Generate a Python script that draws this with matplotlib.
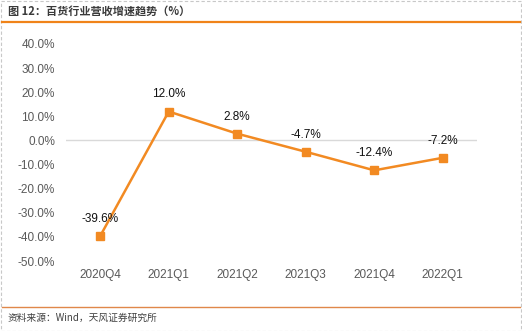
import matplotlib.pyplot as plt
from matplotlib.patches import Rectangle
from matplotlib.lines import Line2D

plt.rcParams['font.family'] = ['Liberation Sans', 'Noto Sans CJK SC', 'DejaVu Sans']

# 百货行业营收增速 (%)
quarters = ['2020Q4', '2021Q1', '2021Q2', '2021Q3', '2021Q4', '2022Q1']
growth = [-39.6, 12.0, 2.8, -4.7, -12.4, -7.2]
yticks = [40, 30, 20, 10, 0, -10, -20, -30, -40, -50]

orange = '#F28A22'

fig = plt.figure(figsize=(5.22, 3.31), dpi=100)
W, H = 522, 331

# outer dashed frame
fig.patches.append(Rectangle((0.5 / W, 0.5 / H), 1 - 1.5 / W, 1 - 1.5 / H, transform=fig.transFigure,
                             fill=False, ec='#c8c8c8', lw=0.8, ls=(0, (3, 2))))
# header/footer rules
fig.lines.append(Line2D([2 / W, 1 - 2 / W], [1 - 22 / H, 1 - 22 / H], transform=fig.transFigure,
                        color='#F08319', lw=1.6))
fig.lines.append(Line2D([2 / W, 1 - 2 / W], [1 - 307 / H, 1 - 307 / H], transform=fig.transFigure,
                        color='#E0884A', lw=1.0))

fig.text(8 / W, 1 - 11 / H, '图 12：百货行业营收增速趋势（%）', fontsize=8, fontweight='bold',
         color='#3a3a3a', va='center', ha='left', family=['Noto Sans CJK SC', 'DejaVu Sans'])
fig.text(8 / W, 1 - 318 / H, '资料来源：Wind，天风证券研究所', fontsize=7,
         color='#404040', va='center', ha='left', family=['Noto Sans CJK SC', 'DejaVu Sans'])

# axes: x 66..477 px, y 40% at 44 px, -50% at 261 px
ax = fig.add_axes([66 / W, 1 - 261 / H, (477 - 66) / W, (261 - 44) / H])
x = list(range(len(quarters)))
ax.plot(x, growth, color=orange, lw=1.8, marker='s', markersize=6, zorder=3)
ax.axhline(0, color='#d9d9d9', lw=1.0, zorder=1)

for xi, v in zip(x, growth):
    ax.annotate(f'{v:.1f}%', (xi, v), xytext=(0, 8), textcoords='offset points',
                ha='center', va='bottom', fontsize=8.5, color='#111111')

ax.set_xlim(-0.5, len(quarters) - 0.5)
ax.set_ylim(-50, 40)
ax.set_yticks(yticks)
ax.set_yticklabels([f'{t:.1f}%' for t in yticks])
ax.set_xticks(x)
ax.set_xticklabels(quarters)
ax.tick_params(axis='both', length=0, labelsize=8.5, colors='#595959')
ax.tick_params(axis='y', pad=8)
ax.tick_params(axis='x', pad=6)
for s in ax.spines.values():
    s.set_visible(False)

fig.savefig('out.png', dpi=100)
